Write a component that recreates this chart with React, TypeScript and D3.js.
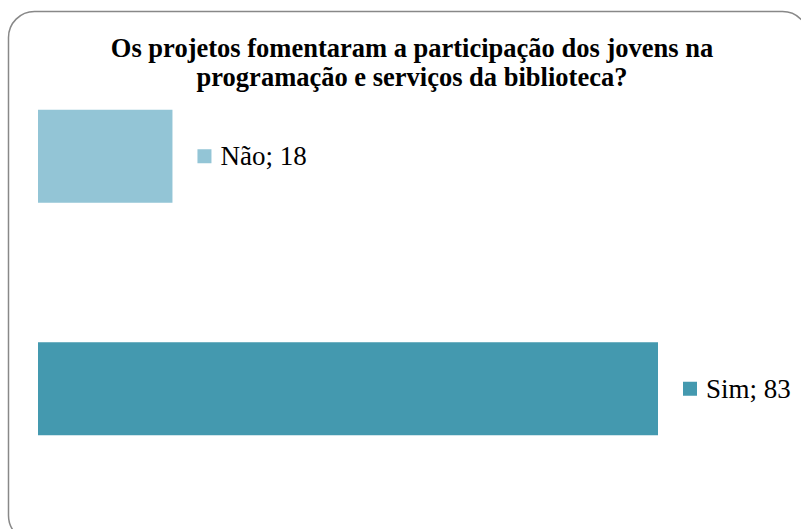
import React from "react";
import * as d3 from "d3";

const categories = ["Não", "Sim"];
const values = [18, 83];
const colors = ["#93C5D6", "#4499AF"];
const titleLines = [
  "Os projetos fomentaram a participação dos jovens na",
  "programação e serviços da biblioteca?",
];

export default function App() {
  const W = 801;
  const H = 529;
  const x = d3.scaleLinear().domain([0, 83]).range([38, 658]);
  const y = d3.scaleBand().domain(categories).range([40, 505]).paddingInner(0.6).paddingOuter(0.3);
  const font = "Liberation Serif";
  return (
    <svg width={W} height={H} style={{ position: "absolute", left: 0, top: 0 }}>
      <rect x={8.5} y={11.5} width={800} height={530} rx={26} ry={26} fill="#fff" stroke="#888" strokeWidth={1.5} />
      {titleLines.map((t, i) => (
        <text key={i} x={412} y={57 + i * 29} textAnchor="middle" fontFamily={font} fontWeight="bold" fontSize={26.5} fill="#000">
          {t}
        </text>
      ))}
      {categories.map((c, i) => {
        const y0 = y(c)!;
        const bw = y.bandwidth();
        const xe = x(values[i]);
        return (
          <g key={c}>
            <rect x={x(0)} y={y0} width={xe - x(0)} height={bw} fill={colors[i]} />
            <rect x={xe + 25} y={y0 + bw / 2 - 7} width={14} height={14} fill={colors[i]} />
            <text x={xe + 48} y={y0 + bw / 2 + 9} fontFamily={font} fontSize={27} fill="#000">
              {`${c}; ${values[i]}`}
            </text>
          </g>
        );
      })}
    </svg>
  );
}
